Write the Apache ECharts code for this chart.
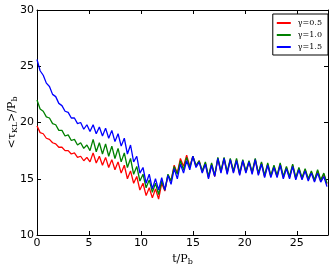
<!DOCTYPE html>
<html><head><meta charset="utf-8">
<script src="https://cdn.jsdelivr.net/npm/echarts@6/dist/echarts.min.js"></script>
<style>html,body{margin:0;padding:0;background:#fff}#c{width:332px;height:271px}</style>
</head><body><div id="c"></div>
<script>
const step = 0.3;
const gammaLabels = ['γ=0.5', 'γ=1.0', 'γ=1.5'];
const xTicks = [0, 5, 10, 15, 20, 25];
const yTicks = [10, 15, 20, 25, 30];
const red = [19.7,19.1,19.0,18.6,18.5,18.2,18.1,17.8,17.8,17.5,17.5,17.2,17.3,16.9,17.0,16.6,16.9,16.5,17.3,16.4,17.0,16.2,16.9,16.0,16.7,15.8,16.5,15.5,16.2,15.0,15.7,14.6,15.2,14.0,14.6,13.5,14.2,13.3,14.1,13.2,14.6,13.9,15.3,14.8,16.2,15.5,16.8,16.1,17.1,16.1,17.0,16.1,16.6,15.6,16.4,15.1,16.3,15.2,16.8,15.6,16.8,15.5,16.7,15.6,16.7,15.4,16.6,15.6,16.5,15.5,16.7,15.4,16.4,15.2,16.3,15.2,16.1,15.2,16.3,15.1,16.0,15.1,16.2,15.0,15.9,15.0,15.8,14.9,15.6,14.8,15.7,14.8,15.4,14.5];
const green = [22.0,21.2,21.0,20.5,20.4,19.9,19.8,19.3,19.3,18.8,18.9,18.4,18.5,18.0,18.2,17.7,18.0,17.5,18.5,17.4,18.2,17.2,18.1,17.0,17.9,16.8,17.7,16.5,17.3,16.0,16.8,15.4,16.1,14.8,15.4,14.2,14.9,13.8,14.6,13.6,14.8,14.0,15.4,14.8,16.1,15.4,16.6,15.8,16.9,16.0,17.0,16.2,16.6,15.7,16.5,15.2,16.4,15.3,16.9,15.7,16.9,15.6,16.8,15.7,16.8,15.5,16.7,15.7,16.6,15.6,16.8,15.5,16.5,15.3,16.4,15.3,16.2,15.3,16.4,15.2,16.1,15.2,16.3,15.1,16.0,15.1,15.9,15.0,15.7,14.9,15.8,14.9,15.5,14.6];
const blue = [25.6,24.6,24.2,23.5,23.2,22.5,22.3,21.7,21.5,21.0,20.9,20.4,20.4,19.9,20.0,19.4,19.8,19.2,19.8,19.0,19.6,18.8,19.5,18.6,19.3,18.3,19.0,17.9,18.6,17.2,18.0,16.5,17.0,15.5,16.0,14.6,15.4,14.1,15.0,14.0,15.1,14.0,15.3,14.5,15.9,15.0,16.3,15.5,16.6,15.8,17.0,16.0,16.5,15.5,16.3,15.0,16.2,15.2,16.8,15.5,16.8,15.4,16.7,15.5,16.6,15.3,16.6,15.5,16.5,15.4,16.7,15.3,16.3,15.1,16.2,15.1,16.0,15.1,16.2,15.0,15.9,15.0,16.1,14.9,15.8,14.9,15.7,14.8,15.5,14.7,15.5,14.7,15.2,14.3];

function pts(arr){ return arr.map((v,i)=>[+(i*step).toFixed(2), v]); }
const chart = echarts.init(document.getElementById('c'), null, {renderer:'canvas'});
const serif = 'DejaVu Serif';
const sans = 'DejaVu Sans';
const axisCommon = {
  axisLine:{show:true, onZero:false, lineStyle:{color:'#000', width:1}},
  axisTick:{show:true, inside:true, length:4, lineStyle:{color:'#000'}},
  splitLine:{show:false}
};
chart.setOption({
  animation:false,
  grid:{left:37, right:4, top:10, bottom:36, containLabel:false, outerBoundsMode:'none'},
  legend:{
    orient:'vertical', right:4, top:14, data:gammaLabels,
    borderColor:'#000', borderWidth:1, padding:[5,6,4,4], itemGap:4,
    itemWidth:14, itemHeight:2, icon:'rect',
    textStyle:{fontFamily:serif, fontSize:8, color:'#000', padding:[0,0,0,2]}
  },
  xAxis:[
    Object.assign({type:'value', min:0, max:28, interval:5, position:'bottom',
      name:'{a|t/P}{s|b}', nameLocation:'middle', nameGap:18, nameMoveOverlap:false,
      nameTextStyle:{rich:{a:{fontFamily:serif,fontSize:11,color:'#000'}, s:{fontFamily:serif,fontSize:8,color:'#000',padding:[5,0,0,0]}}},
      axisLabel:{fontFamily:sans, fontSize:11, color:'#000', margin:3, showMaxLabel:false}}, axisCommon),
    Object.assign({type:'value', min:0, max:28, interval:5, position:'top', axisLabel:{show:false}}, axisCommon)
  ],
  yAxis:[
    Object.assign({type:'value', min:10, max:30, interval:5, position:'left',
      name:'{a|<τ}{s|KL}{a|>/P}{s|b}', nameLocation:'middle', nameGap:18, nameMoveOverlap:false,
      nameTextStyle:{rich:{a:{fontFamily:serif,fontSize:11,color:'#000'}, s:{fontFamily:serif,fontSize:8,color:'#000',padding:[5,0,0,0]}}},
      axisLabel:{fontFamily:sans, fontSize:11, color:'#000', margin:3}}, axisCommon),
    Object.assign({type:'value', min:10, max:30, interval:5, position:'right', axisLabel:{show:false}}, axisCommon)
  ],
  series:[
    {name:gammaLabels[0], type:'line', data:pts(red), showSymbol:false, symbol:'none', lineStyle:{color:'#ff0000', width:1.3}, itemStyle:{color:'#ff0000'}},
    {name:gammaLabels[1], type:'line', data:pts(green), showSymbol:false, symbol:'none', lineStyle:{color:'#008000', width:1.3}, itemStyle:{color:'#008000'}},
    {name:gammaLabels[2], type:'line', data:pts(blue), showSymbol:false, symbol:'none', lineStyle:{color:'#0000ff', width:1.3}, itemStyle:{color:'#0000ff'}}
  ]
});
</script></body></html>
